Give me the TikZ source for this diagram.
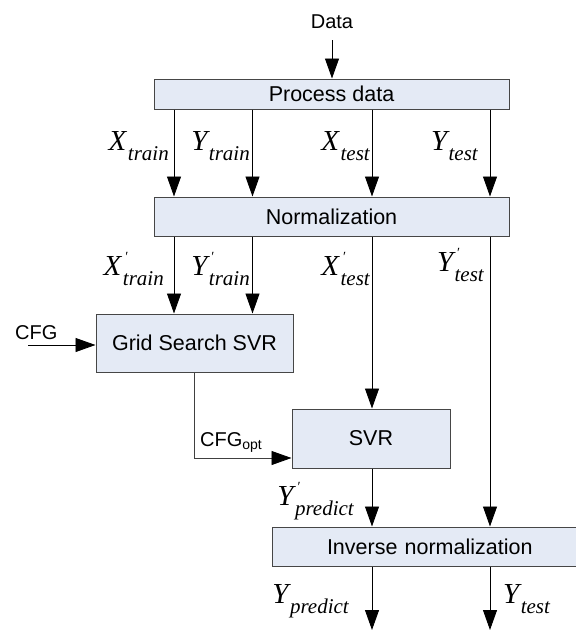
\documentclass[tikz,border=0pt]{standalone}
\usepackage{fontspec}
\setmainfont{Liberation Sans}
\newfontfamily\tnr{Liberation Serif}
\usetikzlibrary{arrows.meta,calc}
\definecolor{boxfill}{RGB}{228,234,245}
\definecolor{boxline}{RGB}{70,70,70}
\newcommand\lab[3]{{\tnr\itshape\fontsize{29}{29}\selectfont #1\rlap{\hspace{4pt}\raisebox{14pt}{\upshape\fontsize{14}{14}\selectfont #2}}\hspace{1.5pt}\raisebox{-10pt}{\fontsize{21}{21}\selectfont #3}}}
\begin{document}
\begin{tikzpicture}[x=1pt,y=-1pt,
  box/.style={draw=boxline,fill=boxfill,line width=1pt,inner sep=0pt,
    font=\fontsize{21.5}{21.5}\selectfont},
  arr/.style={line width=0.9pt,-{Triangle[length=20pt,width=14pt,color=black]}},
  lbl/.style={inner sep=0pt},
  plain/.style={inner sep=0pt,font=\fontsize{20}{20}\selectfont}]
\useasboundingbox (0,0) rectangle (576,630);
\clip (0,0) rectangle (576,630);
% boxes
\node[box,minimum width=355pt,minimum height=30pt] (proc) at (331.5,94) {Process data};
\node[box,minimum width=355pt,minimum height=39pt] (norm) at (331.5,216.5) {Normalization};
\node[box,minimum width=197pt,minimum height=58pt] (grid) at (194.5,343) {Grid Search SVR};
\node[box,minimum width=158pt,minimum height=59pt] (svr) at (371,438.5) {SVR};
\node[box,minimum width=318pt,minimum height=39pt,text width=318pt,align=left] (inv) at (431,546.5) {\hspace{55pt}Inverse normalization};
% coordinates
\coordinate (c1) at (174,0);
\coordinate (c2) at (252.5,0);
\coordinate (c3) at (372,0);
\coordinate (c4) at (490,0);
\coordinate (din) at (332,40);
\coordinate (cfgin) at (28,345);
\coordinate (o1) at (372,630);
\coordinate (o2) at (490,630);
% texts
\node[plain,anchor=base] (data) at (332,28) {Data};
\node[plain,anchor=base west] (cfg) at (15,339) {CFG};
\node[plain,anchor=base west] (cfgopt) at (200,446) {CFG\textsubscript{\fontsize{14}{14}\selectfont opt}};
% arrows
\draw[arr] (din) -- (proc.north -| din);
\foreach \c in {c1,c2,c3,c4}
  \draw[arr] (proc.south -| \c) -- (norm.north -| \c);
\draw[arr] (norm.south -| c1) -- (grid.north -| c1);
\draw[arr] (norm.south -| c2) -- (grid.north -| c2);
\draw[arr] (norm.south -| c3) -- (svr.north -| c3);
\draw[arr] (norm.south -| c4) -- (inv.north -| c4);
\draw[arr] (cfgin) -- (cfgin -| grid.west);
\draw[arr,draw=black!75] (grid.south) |- ([yshift=-19.5pt]svr.west);
\draw[arr] (svr.south -| c3) -- (inv.north -| c3);
\draw[arr] (inv.south -| o1) -- (o1);
\draw[arr] (inv.south -| o2) -- (o2);
% labels
\node[lbl,anchor=base east] (l1) at (169,150) {\lab{X}{}{train}};
\node[lbl,anchor=base east] (l2) at (250,150) {\lab{Y}{}{train}};
\node[lbl,anchor=base east] (l3) at (370,150) {\lab{X}{}{test}};
\node[lbl,anchor=base east] (l4) at (478,150) {\lab{Y}{}{test}};
\node[lbl,anchor=base east] (m1) at (164,275) {\lab{X}{′}{train}};
\node[lbl,anchor=base east] (m2) at (250,275) {\lab{Y}{′}{train}};
\node[lbl,anchor=base east] (m3) at (370,275) {\lab{X}{′}{test}};
\node[lbl,anchor=base east] (m4) at (484,271) {\lab{Y}{′}{test}};
\node[lbl,anchor=base east] (p1) at (354,505) {\lab{Y}{′}{predict}};
\node[lbl,anchor=base east] (p2) at (349,603) {\lab{Y}{}{predict}};
\node[lbl,anchor=base west] (p3) at (503,603) {\lab{Y}{}{test}};
\end{tikzpicture}
\end{document}
